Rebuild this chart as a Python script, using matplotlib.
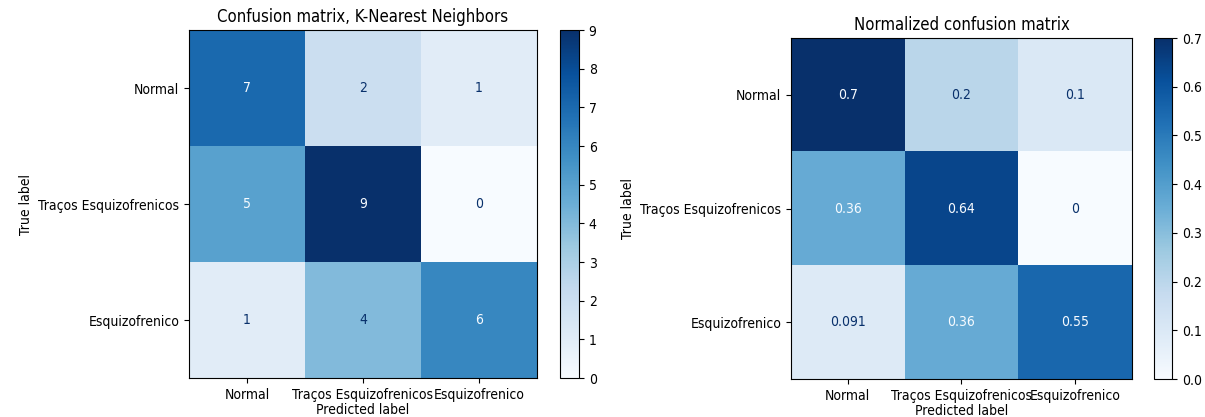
import numpy as np
import matplotlib
matplotlib.use('Agg')
import matplotlib.pyplot as plt

plt.rcParams['font.family'] = ['DejaVu Sans']
plt.rcParams['font.stretch'] = 'condensed'

# class names for both axes
labels = ['Normal', 'Traços Esquizofrenicos', 'Esquizofrenico']

# raw counts (rows = true, cols = predicted)
counts_normal = [7, 2, 1]
counts_tracos = [5, 9, 0]
counts_esquizo = [1, 4, 6]

# normalized rates, as printed in each cell
norm_normal = [0.7, 0.2, 0.1]
norm_tracos = [0.36, 0.64, 0]
norm_esquizo = [0.091, 0.36, 0.55]


def plot_cm(ax, cax, cm, title, fmt):
    cmap = plt.cm.Blues
    im = ax.imshow(cm, interpolation='nearest', cmap=cmap)
    vmin, vmax = im.get_clim()
    thresh = (vmax + vmin) / 2.0
    for i in range(cm.shape[0]):
        for j in range(cm.shape[1]):
            col = cmap(0) if cm[i, j] > thresh else cmap(256)
            ax.text(j, i, format(cm[i, j], fmt), ha='center', va='center', color=col, fontsize=10)
    ax.set_xticks(range(len(labels)))
    ax.set_xticklabels(labels)
    ax.set_yticks(range(len(labels)))
    ax.set_yticklabels(labels)
    ax.set_xlabel('Predicted label', labelpad=1)
    ax.set_ylabel('True label')
    ax.set_title(title)
    plt.colorbar(im, cax=cax)


fig = plt.figure(figsize=(12.05, 4.17), dpi=100)

# ----------- left: counts ------------------------
ax1 = fig.add_axes([0.1568, 0.0935, 0.2888, 0.8345])
cax1 = fig.add_axes([0.4647, 0.0935, 0.0158, 0.8345])
cm1 = np.array([counts_normal, counts_tracos, counts_esquizo])
plot_cm(ax1, cax1, cm1, 'Confusion matrix, K-Nearest Neighbors', 'd')

# ----------- right: normalized ------------------------
ax2 = fig.add_axes([0.6564, 0.0911, 0.2830, 0.8177])
cax2 = fig.add_axes([0.9577, 0.0911, 0.0149, 0.8177])
cm2 = np.array([norm_normal, norm_tracos, norm_esquizo])
plot_cm(ax2, cax2, cm2, 'Normalized confusion matrix', '.2g')

fig.savefig('out.png', dpi=100)
